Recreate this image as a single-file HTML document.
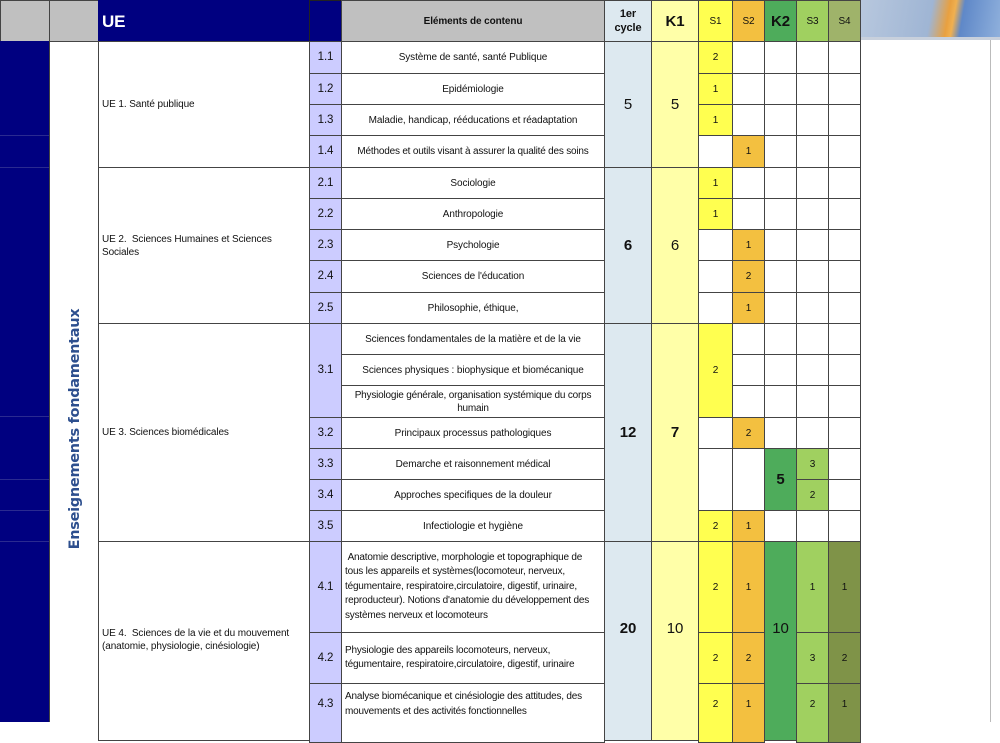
<!DOCTYPE html>
<html><head><meta charset="utf-8"><style>
body{margin:0;width:1000px;height:722px;overflow:hidden;background:#fff;position:relative;font-family:"Liberation Sans",sans-serif;color:#111}
.c{position:absolute;box-sizing:border-box;border:1px solid #444;display:flex;align-items:center;justify-content:center;text-align:center;font-size:10px;line-height:13px;letter-spacing:-0.1px}
.l{justify-content:flex-start;text-align:left;padding-left:3px}
.n{background:#ccccff;font-size:11.5px}
.cy{background:#dde9f0;font-size:15px}
.k1{background:#ffffa8;font-size:15px}
.y{background:#ffff50}.o{background:#f3c040}.g{background:#4eac5b;font-size:15px}.g3{background:#a0d060}.g4{background:#7f9348}
.b{font-weight:bold}
.h{background:#c0c0c0}
</style></head><body>
<div style="position:absolute;left:860px;top:0;width:140px;height:37px;background:linear-gradient(100deg,#b8c8de 0%,#9fb5d4 50%,#e8a040 62%,#f0b050 66%,#5f88c8 72%,#8fb0dc 100%)"></div>
<div style="position:absolute;left:860px;top:37px;width:140px;height:3px;background:#c8d0dc"></div>
<div style="position:absolute;left:990px;top:40px;width:1px;height:682px;background:#bbb"></div>
<!-- header -->
<div class="c h" style="left:0;top:0;width:50px;height:42px"></div>
<div class="c h" style="left:49px;top:0;width:50px;height:42px"></div>
<div class="c l b" style="left:98px;top:0;width:212px;height:42px;background:#000080;color:#fff;font-size:17px;border-color:#000080">UE</div>
<div class="c" style="left:309px;top:0;width:33px;height:42px;background:#000080;border-color:#222"></div>
<div class="c h b" style="left:341px;top:0;width:264px;height:42px;font-size:10px">Eléments de contenu</div>
<div class="c b" style="left:604px;top:0;width:48px;height:42px;background:#dde9f0;font-size:11px;line-height:14px">1er<br>cycle</div>
<div class="c b" style="left:651px;top:0;width:48px;height:42px;background:#ffffa8;font-size:15px">K1</div>
<div class="c y" style="left:698px;top:0;width:35px;height:42px">S1</div>
<div class="c o" style="left:732px;top:0;width:33px;height:42px">S2</div>
<div class="c b" style="left:764px;top:0;width:33px;height:42px;background:#4eac5b;font-size:15px">K2</div>
<div class="c g3" style="left:796px;top:0;width:33px;height:42px">S3</div>
<div class="c g4" style="left:828px;top:0;width:33px;height:42px;background:#9fb36a">S4</div>
<!-- left columns -->
<div style="position:absolute;left:0;top:41px;width:49px;height:681px;background:#000080"></div>
<div style="position:absolute;left:0;top:135px;width:49px;height:1px;background:#2a2a90"></div>
<div style="position:absolute;left:0;top:167px;width:49px;height:1px;background:#2a2a90"></div>
<div style="position:absolute;left:0;top:416px;width:49px;height:1px;background:#2a2a90"></div>
<div style="position:absolute;left:0;top:479px;width:49px;height:1px;background:#2a2a90"></div>
<div style="position:absolute;left:0;top:510px;width:49px;height:1px;background:#2a2a90"></div>
<div style="position:absolute;left:0;top:541px;width:49px;height:1px;background:#2a2a90"></div>
<div style="position:absolute;left:49px;top:41px;width:1px;height:681px;background:#444"></div>
<div style="position:absolute;left:75px;top:429px;transform:translate(-50%,-50%) rotate(-90deg);white-space:nowrap;font-family:'DejaVu Sans',sans-serif;font-weight:bold;font-size:14.5px;letter-spacing:-0.3px;color:#2d4f8e">Enseignements fondamentaux</div>
<!-- UE -->
<div class="c l" style="left:98px;top:41px;width:212px;height:127px">UE 1. Santé publique</div>
<div class="c l" style="left:98px;top:167px;width:212px;height:157px">UE 2.&nbsp; Sciences Humaines et Sciences Sociales</div>
<div class="c l" style="left:98px;top:323px;width:212px;height:219px">UE 3. Sciences biomédicales</div>
<div class="c l" style="left:98px;top:541px;width:212px;height:200px;align-items:flex-start;padding-top:85px">UE 4.&nbsp; Sciences de la vie et du mouvement (anatomie, physiologie, cinésiologie)</div>
<!-- numbers & elements -->
<div class="c n" style="left:309px;top:41px;width:33px;height:33px">1.1</div><div class="c" style="left:341px;top:41px;width:264px;height:33px">Système de santé, santé Publique</div>
<div class="c n" style="left:309px;top:73px;width:33px;height:32px">1.2</div><div class="c" style="left:341px;top:73px;width:264px;height:32px">Epidémiologie</div>
<div class="c n" style="left:309px;top:104px;width:33px;height:32px">1.3</div><div class="c" style="left:341px;top:104px;width:264px;height:32px">Maladie, handicap, rééducations et réadaptation</div>
<div class="c n" style="left:309px;top:135px;width:33px;height:33px">1.4</div><div class="c" style="left:341px;top:135px;width:264px;height:33px;letter-spacing:-0.2px">Méthodes et outils visant à assurer la qualité des soins</div>
<div class="c n" style="left:309px;top:167px;width:33px;height:32px">2.1</div><div class="c" style="left:341px;top:167px;width:264px;height:32px">Sociologie</div>
<div class="c n" style="left:309px;top:198px;width:33px;height:32px">2.2</div><div class="c" style="left:341px;top:198px;width:264px;height:32px">Anthropologie</div>
<div class="c n" style="left:309px;top:229px;width:33px;height:32px">2.3</div><div class="c" style="left:341px;top:229px;width:264px;height:32px">Psychologie</div>
<div class="c n" style="left:309px;top:260px;width:33px;height:33px">2.4</div><div class="c" style="left:341px;top:260px;width:264px;height:33px">Sciences de l'éducation</div>
<div class="c n" style="left:309px;top:292px;width:33px;height:32px">2.5</div><div class="c" style="left:341px;top:292px;width:264px;height:32px">Philosophie, éthique,</div>
<div class="c n" style="left:309px;top:323px;width:33px;height:95px">3.1</div>
<div class="c" style="left:341px;top:323px;width:264px;height:32px">Sciences fondamentales de la matière et de la vie</div>
<div class="c" style="left:341px;top:354px;width:264px;height:32px">Sciences physiques : biophysique et biomécanique</div>
<div class="c" style="left:341px;top:385px;width:264px;height:33px;letter-spacing:-0.2px">Physiologie générale, organisation systémique du corps humain</div>
<div class="c n" style="left:309px;top:417px;width:33px;height:32px">3.2</div><div class="c" style="left:341px;top:417px;width:264px;height:32px">Principaux processus pathologiques</div>
<div class="c n" style="left:309px;top:448px;width:33px;height:32px">3.3</div><div class="c" style="left:341px;top:448px;width:264px;height:32px">Demarche et raisonnement médical</div>
<div class="c n" style="left:309px;top:479px;width:33px;height:32px">3.4</div><div class="c" style="left:341px;top:479px;width:264px;height:32px">Approches specifiques de la douleur</div>
<div class="c n" style="left:309px;top:510px;width:33px;height:32px">3.5</div><div class="c" style="left:341px;top:510px;width:264px;height:32px">Infectiologie et hygiène</div>
<div class="c n" style="left:309px;top:541px;width:33px;height:92px">4.1</div><div class="c l" style="left:341px;top:541px;width:264px;height:92px;line-height:14.5px;letter-spacing:-0.2px;padding-right:10px">&nbsp;Anatomie descriptive, morphologie et topographique de tous les appareils et systèmes(locomoteur, nerveux, tégumentaire, respiratoire,circulatoire, digestif, urinaire, reproducteur). Notions d'anatomie du développement des systèmes nerveux et locomoteurs</div>
<div class="c n" style="left:309px;top:632px;width:33px;height:52px">4.2</div><div class="c l" style="left:341px;top:632px;width:264px;height:52px;line-height:14.5px;letter-spacing:-0.2px;padding-right:10px">Physiologie des appareils locomoteurs, nerveux, tégumentaire, respiratoire,circulatoire, digestif, urinaire</div>
<div class="c n" style="left:309px;top:683px;width:33px;height:60px;align-items:flex-start;padding-top:14px">4.3</div><div class="c l" style="left:341px;top:683px;width:264px;height:60px;align-items:flex-start;padding-top:6px;line-height:14.5px;letter-spacing:-0.2px;padding-right:8px">Analyse biomécanique et cinésiologie des attitudes, des mouvements et des activités fonctionnelles</div>
<!-- cycle & K1 -->
<div class="c cy" style="left:604px;top:41px;width:48px;height:127px">5</div>
<div class="c cy b" style="left:604px;top:167px;width:48px;height:157px">6</div>
<div class="c cy b" style="left:604px;top:323px;width:48px;height:219px">12</div>
<div class="c cy b" style="left:604px;top:541px;width:48px;height:200px;align-items:flex-start;padding-top:80px">20</div>
<div class="c k1" style="left:651px;top:41px;width:48px;height:127px">5</div>
<div class="c k1" style="left:651px;top:167px;width:48px;height:157px">6</div>
<div class="c k1 b" style="left:651px;top:323px;width:48px;height:219px">7</div>
<div class="c k1" style="left:651px;top:541px;width:48px;height:200px;align-items:flex-start;padding-top:80px">10</div>
<!-- S columns rows 1-9 -->
<div class="c y" style="left:698px;top:41px;width:35px;height:33px">2</div><div class="c" style="left:732px;top:41px;width:33px;height:33px"></div><div class="c" style="left:764px;top:41px;width:33px;height:33px"></div><div class="c" style="left:796px;top:41px;width:33px;height:33px"></div><div class="c" style="left:828px;top:41px;width:33px;height:33px"></div>
<div class="c y" style="left:698px;top:73px;width:35px;height:32px">1</div><div class="c" style="left:732px;top:73px;width:33px;height:32px"></div><div class="c" style="left:764px;top:73px;width:33px;height:32px"></div><div class="c" style="left:796px;top:73px;width:33px;height:32px"></div><div class="c" style="left:828px;top:73px;width:33px;height:32px"></div>
<div class="c y" style="left:698px;top:104px;width:35px;height:32px">1</div><div class="c" style="left:732px;top:104px;width:33px;height:32px"></div><div class="c" style="left:764px;top:104px;width:33px;height:32px"></div><div class="c" style="left:796px;top:104px;width:33px;height:32px"></div><div class="c" style="left:828px;top:104px;width:33px;height:32px"></div>
<div class="c" style="left:698px;top:135px;width:35px;height:33px"></div><div class="c o" style="left:732px;top:135px;width:33px;height:33px">1</div><div class="c" style="left:764px;top:135px;width:33px;height:33px"></div><div class="c" style="left:796px;top:135px;width:33px;height:33px"></div><div class="c" style="left:828px;top:135px;width:33px;height:33px"></div>
<div class="c y" style="left:698px;top:167px;width:35px;height:32px">1</div><div class="c" style="left:732px;top:167px;width:33px;height:32px"></div><div class="c" style="left:764px;top:167px;width:33px;height:32px"></div><div class="c" style="left:796px;top:167px;width:33px;height:32px"></div><div class="c" style="left:828px;top:167px;width:33px;height:32px"></div>
<div class="c y" style="left:698px;top:198px;width:35px;height:32px">1</div><div class="c" style="left:732px;top:198px;width:33px;height:32px"></div><div class="c" style="left:764px;top:198px;width:33px;height:32px"></div><div class="c" style="left:796px;top:198px;width:33px;height:32px"></div><div class="c" style="left:828px;top:198px;width:33px;height:32px"></div>
<div class="c" style="left:698px;top:229px;width:35px;height:32px"></div><div class="c o" style="left:732px;top:229px;width:33px;height:32px">1</div><div class="c" style="left:764px;top:229px;width:33px;height:32px"></div><div class="c" style="left:796px;top:229px;width:33px;height:32px"></div><div class="c" style="left:828px;top:229px;width:33px;height:32px"></div>
<div class="c" style="left:698px;top:260px;width:35px;height:33px"></div><div class="c o" style="left:732px;top:260px;width:33px;height:33px">2</div><div class="c" style="left:764px;top:260px;width:33px;height:33px"></div><div class="c" style="left:796px;top:260px;width:33px;height:33px"></div><div class="c" style="left:828px;top:260px;width:33px;height:33px"></div>
<div class="c" style="left:698px;top:292px;width:35px;height:32px"></div><div class="c o" style="left:732px;top:292px;width:33px;height:32px">1</div><div class="c" style="left:764px;top:292px;width:33px;height:32px"></div><div class="c" style="left:796px;top:292px;width:33px;height:32px"></div><div class="c" style="left:828px;top:292px;width:33px;height:32px"></div>
<!-- 3.1 -->
<div class="c y" style="left:698px;top:323px;width:35px;height:95px">2</div>
<div class="c" style="left:732px;top:323px;width:33px;height:32px"></div><div class="c" style="left:764px;top:323px;width:33px;height:32px"></div><div class="c" style="left:796px;top:323px;width:33px;height:32px"></div><div class="c" style="left:828px;top:323px;width:33px;height:32px"></div>
<div class="c" style="left:732px;top:354px;width:33px;height:32px"></div><div class="c" style="left:764px;top:354px;width:33px;height:32px"></div><div class="c" style="left:796px;top:354px;width:33px;height:32px"></div><div class="c" style="left:828px;top:354px;width:33px;height:32px"></div>
<div class="c" style="left:732px;top:385px;width:33px;height:33px"></div><div class="c" style="left:764px;top:385px;width:33px;height:33px"></div><div class="c" style="left:796px;top:385px;width:33px;height:33px"></div><div class="c" style="left:828px;top:385px;width:33px;height:33px"></div>
<!-- 3.2 -->
<div class="c" style="left:698px;top:417px;width:35px;height:32px"></div><div class="c o" style="left:732px;top:417px;width:33px;height:32px">2</div><div class="c" style="left:764px;top:417px;width:33px;height:32px"></div><div class="c" style="left:796px;top:417px;width:33px;height:32px"></div><div class="c" style="left:828px;top:417px;width:33px;height:32px"></div>
<!-- 3.3/3.4 -->
<div class="c" style="left:698px;top:448px;width:35px;height:63px"></div><div class="c" style="left:732px;top:448px;width:33px;height:63px"></div>
<div class="c g b" style="left:764px;top:448px;width:33px;height:63px">5</div>
<div class="c g3" style="left:796px;top:448px;width:33px;height:32px">3</div><div class="c" style="left:828px;top:448px;width:33px;height:32px"></div>
<div class="c g3" style="left:796px;top:479px;width:33px;height:32px">2</div><div class="c" style="left:828px;top:479px;width:33px;height:32px"></div>
<!-- 3.5 -->
<div class="c y" style="left:698px;top:510px;width:35px;height:32px">2</div><div class="c o" style="left:732px;top:510px;width:33px;height:32px">1</div><div class="c" style="left:764px;top:510px;width:33px;height:32px"></div><div class="c" style="left:796px;top:510px;width:33px;height:32px"></div><div class="c" style="left:828px;top:510px;width:33px;height:32px"></div>
<!-- 4.x -->
<div class="c g" style="left:764px;top:541px;width:33px;height:200px;align-items:flex-start;padding-top:80px">10</div>
<div class="c y" style="left:698px;top:541px;width:35px;height:92px">2</div><div class="c o" style="left:732px;top:541px;width:33px;height:92px">1</div><div class="c g3" style="left:796px;top:541px;width:33px;height:92px">1</div><div class="c g4" style="left:828px;top:541px;width:33px;height:92px">1</div>
<div class="c y" style="left:698px;top:632px;width:35px;height:52px">2</div><div class="c o" style="left:732px;top:632px;width:33px;height:52px">2</div><div class="c g3" style="left:796px;top:632px;width:33px;height:52px">3</div><div class="c g4" style="left:828px;top:632px;width:33px;height:52px">2</div>
<div class="c y" style="left:698px;top:683px;width:35px;height:60px;align-items:flex-start;padding-top:14px">2</div><div class="c o" style="left:732px;top:683px;width:33px;height:60px;align-items:flex-start;padding-top:14px">1</div><div class="c g3" style="left:796px;top:683px;width:33px;height:60px;align-items:flex-start;padding-top:14px">2</div><div class="c g4" style="left:828px;top:683px;width:33px;height:60px;align-items:flex-start;padding-top:14px">1</div>
</body></html>
